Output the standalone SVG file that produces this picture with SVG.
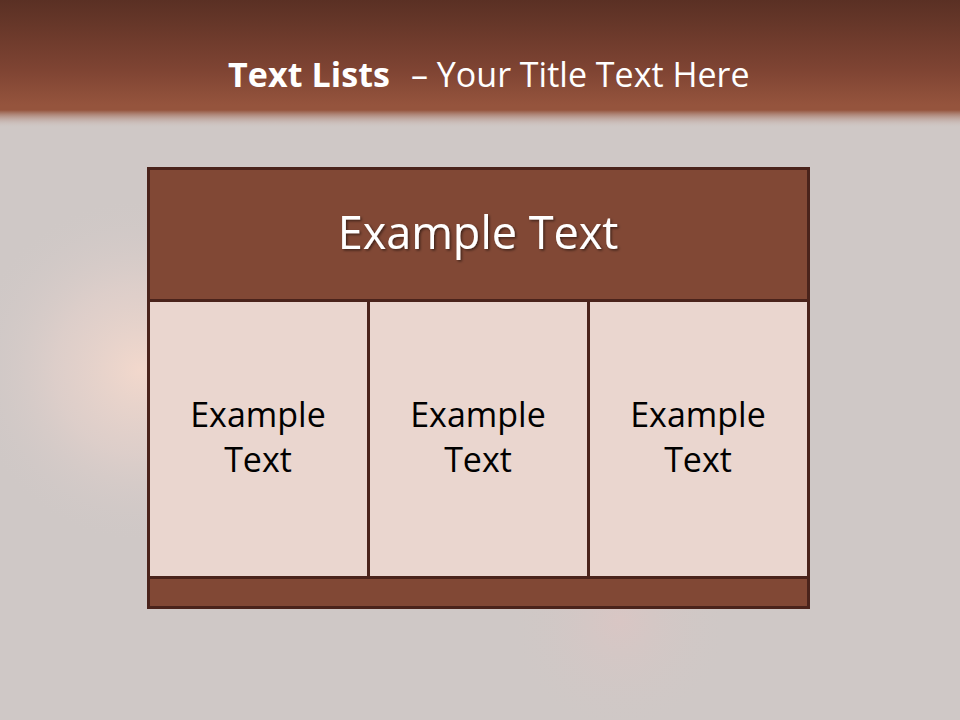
<svg xmlns="http://www.w3.org/2000/svg" width="960" height="720" viewBox="0 0 960 720">
<defs>
<linearGradient id="band" x1="0" y1="0" x2="0" y2="1">
<stop offset="0" stop-color="#5a3024"/>
<stop offset="0.55" stop-color="#7f4433"/>
<stop offset="0.82" stop-color="#95543d"/>
<stop offset="0.86" stop-color="#95543d"/>
<stop offset="1" stop-color="#d2c8c6" stop-opacity="0"/>
</linearGradient>
<radialGradient id="glow" cx="140" cy="370" r="170" gradientUnits="userSpaceOnUse">
<stop offset="0" stop-color="#f2d8cc"/>
<stop offset="0.5" stop-color="#e6d2cc" stop-opacity="0.6"/>
<stop offset="1" stop-color="#d3cac9" stop-opacity="0"/>
</radialGradient>
<radialGradient id="glow2" cx="620" cy="620" r="110" gradientUnits="userSpaceOnUse">
<stop offset="0" stop-color="#d9c6c4"/>
<stop offset="1" stop-color="#d0c8c6" stop-opacity="0"/>
</radialGradient>
<filter id="sh" x="-5%" y="-20%" width="110%" height="140%">
<feDropShadow dx="1.5" dy="1.5" stdDeviation="1" flood-color="#000" flood-opacity="0.5"/>
</filter>
</defs>
<style>
.hdr{fill:#814835;stroke:#4a231b;stroke-width:3}
.cell{fill:#ead6cf;stroke:#4a231b;stroke-width:3}
.t{font-family:"Open Sans","Noto Sans",sans-serif}
.ct{font-family:"Open Sans","Noto Sans",sans-serif;font-size:34px;fill:#000;text-anchor:middle}
</style>
<rect width="960" height="720" fill="#cfc8c6"/>
<rect width="960" height="720" fill="url(#glow)"/>
<rect width="960" height="720" fill="url(#glow2)"/>
<rect width="960" height="128" fill="url(#band)"/>
<g id="title">
<text class="t" x="228" y="87" font-size="34" font-weight="bold" fill="#fff" textLength="162">Text Lists</text>
<text class="t" x="411" y="87" font-size="34" fill="#fff">– Your Title Text Here</text>
</g>
<g id="header">
<rect class="hdr" x="148.5" y="168.5" width="660" height="132"/>
<text class="t" x="478" y="249" text-anchor="middle" font-size="45" fill="#fff" filter="url(#sh)">Example Text</text>
</g>
<g id="cell1">
<rect class="cell" x="148.5" y="300.5" width="220" height="277"/>
<text class="ct" x="258" y="427">Example</text>
<text class="ct" x="258" y="472">Text</text>
</g>
<g id="cell2">
<rect class="cell" x="368.5" y="300.5" width="220" height="277"/>
<text class="ct" x="478" y="427">Example</text>
<text class="ct" x="478" y="472">Text</text>
</g>
<g id="cell3">
<rect class="cell" x="588.5" y="300.5" width="220" height="277"/>
<text class="ct" x="698" y="427">Example</text>
<text class="ct" x="698" y="472">Text</text>
</g>
<g id="footer">
<rect class="hdr" x="148.5" y="577.5" width="660" height="30"/>
</g>
<g id="connectors"/>
</svg>
